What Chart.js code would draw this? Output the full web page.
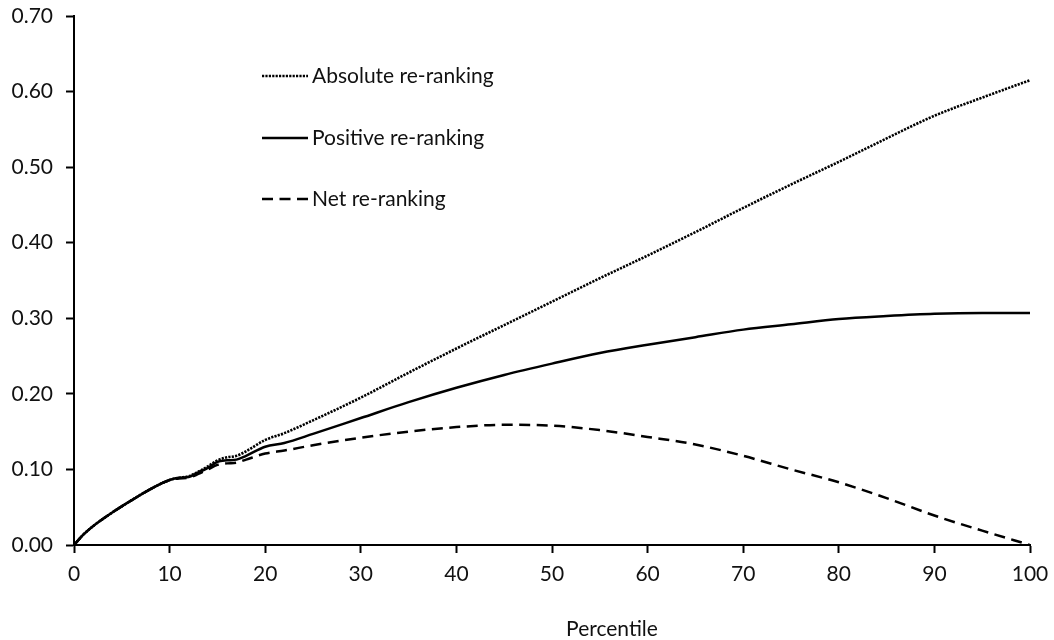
<!DOCTYPE html>
<html>
<head>
<meta charset="utf-8">
<title>Re-ranking by percentile</title>
<script src="https://cdn.jsdelivr.net/npm/chart.js@4.4.1/dist/chart.umd.min.js"></script>
<style>
  html, body { margin: 0; padding: 0; background: #fff; }
  #wrap { width: 1054px; height: 640px; position: relative; }
</style>
</head>
<body>
<div id="wrap"><canvas id="chart"></canvas></div>
<script>
// Percentile positions
const percentiles = [0, 1, 2, 4, 6, 8, 10, 11, 12, 13, 14, 15, 16, 17, 18, 20, 22, 25, 30, 35, 40, 45, 50, 55, 60, 65, 70, 75, 80, 85, 90, 95, 100];

// Re-ranking measures
const absoluteReranking = [0, 0.014, 0.025, 0.043, 0.059, 0.074, 0.086, 0.089, 0.091, 0.097, 0.104, 0.112, 0.116, 0.118, 0.124, 0.139, 0.148, 0.165, 0.195, 0.228, 0.260, 0.291, 0.322, 0.353, 0.383, 0.414, 0.446, 0.477, 0.507, 0.538, 0.568, 0.592, 0.615];
const positiveReranking = [0, 0.014, 0.025, 0.043, 0.059, 0.074, 0.086, 0.089, 0.090, 0.096, 0.102, 0.110, 0.112, 0.113, 0.118, 0.130, 0.135, 0.147, 0.168, 0.189, 0.208, 0.225, 0.240, 0.254, 0.265, 0.275, 0.285, 0.292, 0.299, 0.303, 0.306, 0.307, 0.307];
const netReranking = [0, 0.014, 0.025, 0.043, 0.059, 0.074, 0.086, 0.088, 0.089, 0.094, 0.100, 0.106, 0.108, 0.109, 0.113, 0.121, 0.125, 0.132, 0.142, 0.150, 0.156, 0.159, 0.158, 0.152, 0.143, 0.133, 0.118, 0.100, 0.083, 0.062, 0.039, 0.019, 0];

const seriesNames = ['Absolute re-ranking', 'Positive re-ranking', 'Net re-ranking'];
const xTitle = 'Percentile';

const FONT = 'Lato, "Open Sans", sans-serif';
const TEXT = '#111';
const FONT_SIZE = 21;

const toPoints = (vals) => percentiles.map((p, i) => ({ x: p, y: vals[i] }));

const styles = [
  { borderWidth: 2.6, borderDash: [2.2, 1.2], borderColor: '#000' },
  { borderWidth: 2.5, borderDash: [], borderColor: '#000' },
  { borderWidth: 2.5, borderDash: [11, 6.5], borderColor: '#000' }
];

const datasets = [absoluteReranking, positiveReranking, netReranking].map((vals, i) => ({
  label: seriesNames[i],
  data: toPoints(vals),
  borderColor: styles[i].borderColor,
  borderWidth: styles[i].borderWidth,
  borderDash: styles[i].borderDash,
  borderCapStyle: 'butt',
  pointRadius: 0,
  fill: false,
  cubicInterpolationMode: 'monotone'
}));

// Legend drawn inside the plot area, upper left
const insideLegend = {
  id: 'insideLegend',
  afterDatasetsDraw(chart) {
    const { ctx, chartArea } = chart;
    const x0 = chartArea.left + 188;
    const x1 = chartArea.left + 234;
    const rows = [chartArea.top + 60, chartArea.top + 122, chartArea.top + 183];
    ctx.save();
    ctx.font = FONT_SIZE + 'px ' + FONT;
    ctx.fillStyle = TEXT;
    ctx.textBaseline = 'middle';
    ctx.textAlign = 'left';
    rows.forEach((y, i) => {
      ctx.beginPath();
      ctx.lineWidth = styles[i].borderWidth;
      ctx.strokeStyle = styles[i].borderColor;
      ctx.setLineDash(styles[i].borderDash);
      ctx.moveTo(x0, y);
      ctx.lineTo(x1, y);
      ctx.stroke();
      ctx.setLineDash([]);
      ctx.fillText(seriesNames[i], x1 + 4, y);
    });
    ctx.restore();
  }
};

// Horizontal axis title
const axisTitle = {
  id: 'axisTitle',
  afterDraw(chart) {
    const { ctx, chartArea } = chart;
    ctx.save();
    ctx.font = FONT_SIZE + 'px ' + FONT;
    ctx.fillStyle = TEXT;
    ctx.textAlign = 'center';
    ctx.textBaseline = 'alphabetic';
    ctx.fillText(xTitle, (chartArea.left + chartArea.right) / 2 + 60, chartArea.bottom + 91);
    ctx.restore();
  }
};

new Chart(document.getElementById('chart'), {
  type: 'line',
  data: { datasets },
  plugins: [insideLegend, axisTitle],
  options: {
    responsive: true,
    maintainAspectRatio: false,
    animation: false,
    layout: { padding: { left: 0, right: 24, top: 16, bottom: 0 } },
    plugins: { legend: { display: false }, tooltip: { enabled: false } },
    scales: {
      x: {
        type: 'linear',
        min: 0,
        max: 100,
        afterFit(scale) { scale.height = 95; scale.paddingLeft = 0; scale.paddingRight = 0; },
        border: { display: true, color: '#000', width: 2 },
        grid: { drawOnChartArea: false, drawTicks: true, tickLength: 8, tickColor: '#000', tickWidth: 2 },
        ticks: { stepSize: 10, color: TEXT, padding: 9, font: { family: FONT, size: FONT_SIZE }, maxRotation: 0 }
      },
      y: {
        min: 0,
        max: 0.7,
        afterFit(scale) { scale.width = 74; scale.paddingTop = 0; scale.paddingBottom = 0; },
        border: { display: true, color: '#000', width: 2 },
        grid: { drawOnChartArea: false, drawTicks: true, tickLength: 8, tickColor: '#000', tickWidth: 2 },
        ticks: {
          stepSize: 0.1,
          color: TEXT,
          padding: 13,
          font: { family: FONT, size: FONT_SIZE },
          callback: (v) => v.toFixed(2)
        }
      }
    }
  }
});
</script>
</body>
</html>
